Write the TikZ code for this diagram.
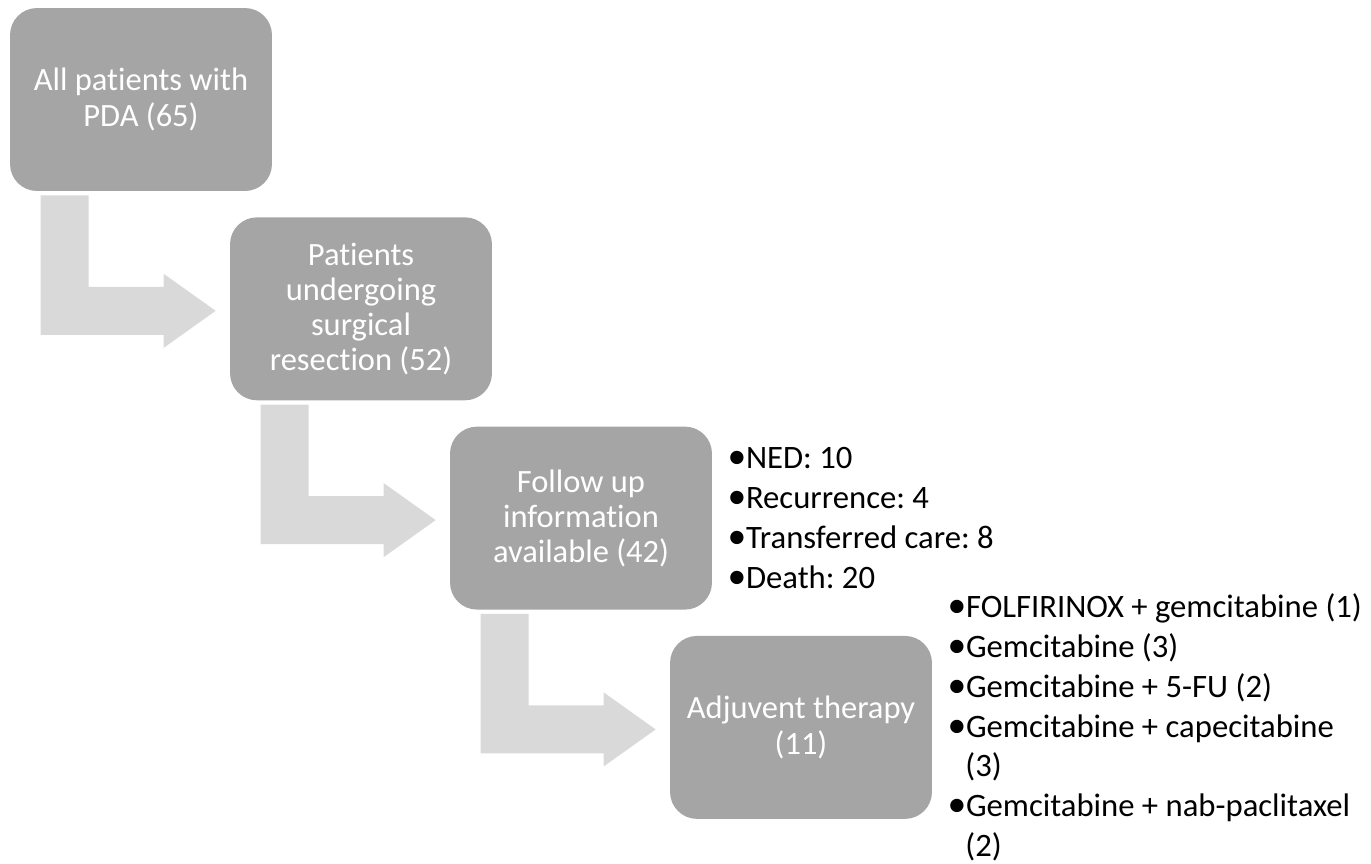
\documentclass[tikz,border=0pt]{standalone}
\usepackage{fontspec}
\usepackage{graphicx}
\setmainfont{Carlito}[Ligatures=NoCommon]
\usetikzlibrary{positioning,calc}
\frenchspacing

\definecolor{boxgray}{HTML}{A5A5A5}
\definecolor{arrowgray}{HTML}{D9D9D9}

\tikzset{
	stepbox/.style={fill=boxgray, rounded corners=0.54cm, minimum width=5.24cm, minimum height=3.66cm, inner sep=0pt, align=center, text=white, font=\fontsize{18.5}{20}\selectfont},
	notelist/.style={inner sep=0pt, align=left, font=\fontsize{18.6}{22.7}\selectfont},
	bentarrow/.style={fill=arrowgray}
}
\newcommand{\bul}{\makebox[0.3em][l]{\kern-0.06em\scalebox{1.15}{•}}\hspace{0.2em}}
\newcommand{\hang}{\hspace*{0.48em}}

\begin{document}
\begin{tikzpicture}[x=0.02cm,y=-0.02cm]
	\useasboundingbox (0,0) rectangle (1371,863);
	
	\foreach \name/\txt [count=\i from 0] in {pda/{All patients with\\PDA (65)}, resect/{Patients\\undergoing\\surgical\\resection (52)}, followup/{Follow up\\information\\available (42)}, adjuvant/{Adjuvent therapy\\(11)}}
	{
		\node[stepbox] (\name) at ({141+220*\i},{99.5+209.3*\i}) {\txt};
	}
	
	% bent arrows from box to box
	\foreach \a/\b in {pda/resect, resect/followup, followup/adjuvant}
	{
		\coordinate (s) at ($(\a.south west)+(31,4)$);
		\coordinate (t) at ($(\b.west)+(-14,2)$);
		\fill[bentarrow] (s) -- ++(48,0) -- ($(s |- t)+(48,-24)$) -- ($(t)+(-52,-24)$) -- ($(t)+(-52,-37)$) -- (t) -- ($(t)+(-52,37)$) -- ($(t)+(-52,24)$) -- ($(s |- t)+(0,24)$) -- cycle;
	}
	
	\node[notelist, right=0.34cm of followup] (outcomes) {\bul NED: 10\\\bul Recurrence: 4\\\bul Transferred care: 8\\\bul Death: 20};
	\node[notelist, right=0.34cm of adjuvant] (regimens) {\bul FOLFIRINOX + gemcitabine (1)\\\bul Gemcitabine (3)\\\bul Gemcitabine + 5-FU (2)\\\bul Gemcitabine + capecitabine\\\hang(3)\\\bul Gemcitabine + nab-paclitaxel\\\hang(2)};
	
\end{tikzpicture}
\end{document}
